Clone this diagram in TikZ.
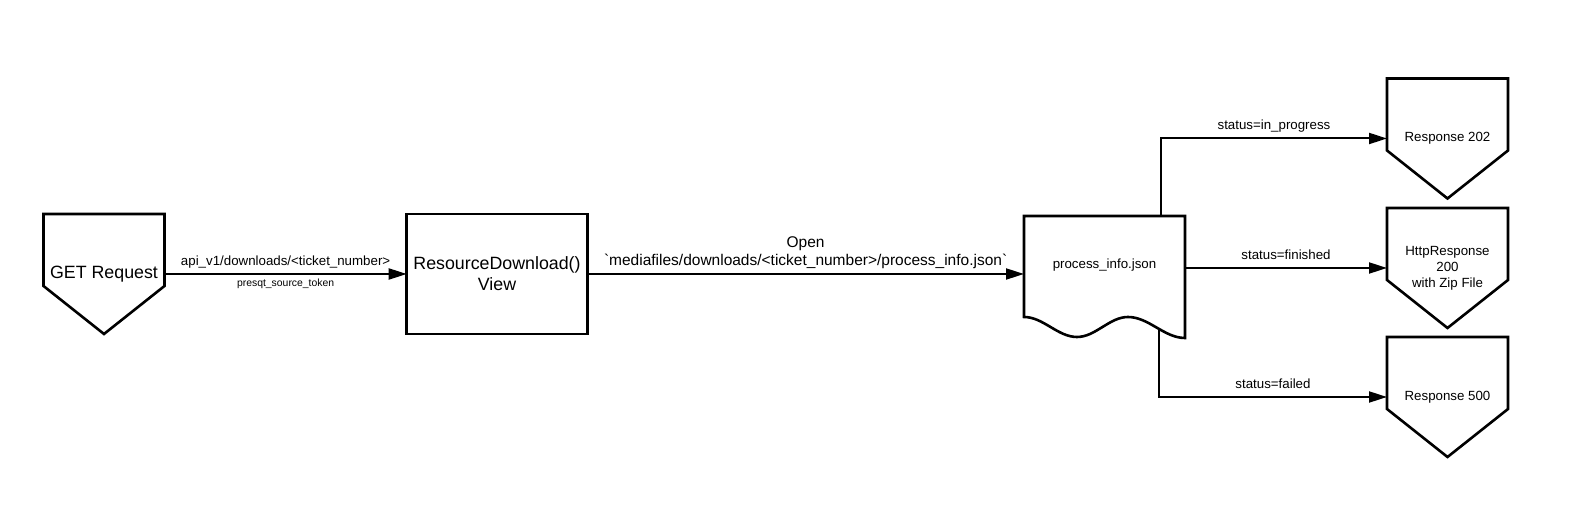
\documentclass[tikz,border=0pt]{standalone}
\usepackage{fontspec}
\setmainfont{Liberation Sans}
\usetikzlibrary{positioning}
\usetikzlibrary{arrows.meta}
\tikzset{
    pentnode/.style = {rectangle, draw=none, outer sep=0pt, inner sep=0pt, minimum width=60.5pt, minimum height=60pt, align=center, font=\fontsize{6.65}{8}\selectfont},
    pentnodeb/.style = {pentnode, font=\fontsize{8.9}{10.5}\selectfont},
    boxnode/.style = {rectangle, draw=black, line width=1.3pt, outer sep=0pt, minimum width=90pt, minimum height=60pt, align=center, font=\fontsize{8.9}{10.5}\selectfont},
    docnode/.style = {rectangle, draw=none, outer sep=0pt, minimum width=80.5pt, minimum height=49pt, align=center, font=\fontsize{6.65}{8}\selectfont},
    shapeline/.style = {line width=1.3pt, draw=black, line join=miter},
    edgea/.style = {-{Triangle[length=9pt,width=5.5pt]}, line width=1pt, black},
    lbl/.style = {font=\fontsize{6.65}{8}\selectfont, inner sep=1.3pt, text height=0.75em, text depth=0.25em},
    lbls/.style = {font=\fontsize{5.2}{6}\selectfont, inner sep=0pt, text height=0.6em, text depth=0.25em},
    lblm/.style = {font=\fontsize{7.75}{9}\selectfont, align=center, inner sep=2pt}
}

\begin{document}
\begin{tikzpicture}[x=0.5pt,y=-0.5pt]
\path[use as bounding box] (0,0) rectangle (1576,517);
%
\node[pentnodeb] at (104,274) (get) {GET Request};
\node[boxnode] at (497,274) (rd) {ResourceDownload()\\View};
\node[docnode] at (1104.5,265) (doc) {process\_info.json};
\node[pentnode] at (1447.5,138.5) (r202) {Response 202};
\node[pentnode] at (1447.5,268) (r200) {HttpResponse\\200\\with Zip File};
\node[pentnode] at (1447.5,397) (r500) {Response 500};
\coordinate (docfoot) at ([xshift=-13pt,yshift=-7.5pt]doc.south east);
%
\foreach \n in {get,r202,r200,r500}
  \draw[shapeline] (\n.north west) -- (\n.north east) -- ([yshift=24pt]\n.south east) -- (\n.south) -- ([yshift=24pt]\n.south west) -- cycle;
\draw[shapeline] ([yshift=-1.5pt]doc.south west) -- (doc.north west) -- (doc.north east) -- ([yshift=-12pt]doc.south east)
  cos ++(-28.5,-10.5) sin ++(-28.5,-10.5) cos ++(-25.5,10) sin ++(-25.5,10) cos ++(-26.5,-10) sin ++(-26.5,-10) -- cycle;
%
\draw[edgea] (get.east) -- (rd.west) node[lbl, midway, above] {api\_v1/downloads/<ticket\_number>} node[lbls, midway, below] {presqt\_source\_token};
\draw[edgea] (rd.east) -- (rd.east -| doc.west) node[lblm, midway, above] {Open\\\textasciigrave mediafiles/downloads/<ticket\_number>/process\_info.json\textasciigrave};
\draw[edgea] ([xshift=-12pt]doc.north east) |- (r202.west) node[lbl, pos=0.75, above] {status=in\_progress};
\draw[edgea] (doc.east |- r200.west) -- (r200.west) node[lbl, midway, above] {status=finished};
\draw[edgea] (docfoot) |- (r500.west) node[lbl, pos=0.75, above] {status=failed};

\end{tikzpicture}
\end{document}
